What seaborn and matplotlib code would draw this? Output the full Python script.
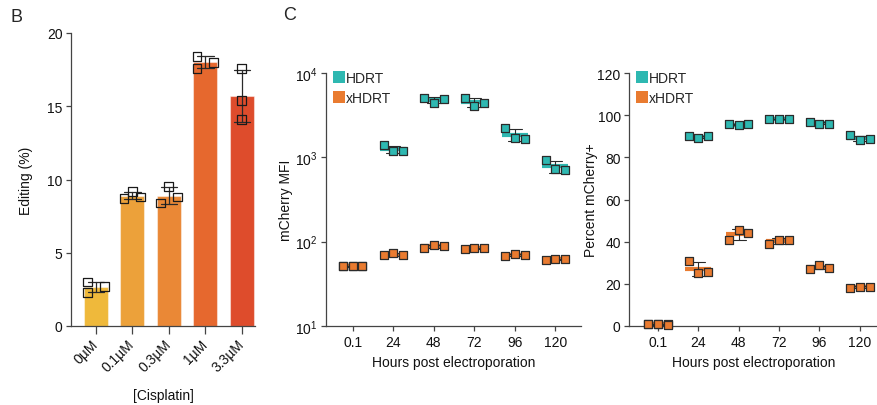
import numpy as np
import pandas as pd
import matplotlib
matplotlib.use("Agg")
import matplotlib.pyplot as plt
import seaborn as sns
from matplotlib.lines import Line2D
from matplotlib.ticker import NullLocator, FixedLocator

# ---- panel B data ----
doses = ["0µM", "0.1µM", "0.3µM", "1µM", "3.3µM"]
editing = [[3.0, 2.3, 2.7], [8.7, 9.2, 8.8], [8.4, 9.5, 8.8],
           [18.4, 17.6, 18.0], [17.6, 15.4, 14.1]]

# ---- panel C data ----
hours = ["0.1", "24", "48", "72", "96", "120"]
groups = ["HDRT", "xHDRT"]
mfi_hdrt = [[52, 51, 52], [1384, 1186, 1186], [5092, 4396, 4865],
            [5092, 4055, 4357], [2203, 1706, 1645], [927, 718, 705]]
mfi_xhdrt = [[51, 52, 51], [69, 73, 69], [84, 92, 88],
             [82, 84, 84], [68, 72, 69], [61, 62, 62]]
pct_hdrt = [[0.8, 1.0, 0.9], [89.9, 89.1, 89.9], [95.6, 95.3, 95.8],
            [98.3, 98.1, 98.1], [96.7, 95.8, 95.9], [90.5, 88.2, 88.5]]
pct_xhdrt = [[0.8, 0.9, 0.7], [30.9, 25.0, 25.5], [40.8, 45.7, 44.0],
             [38.9, 41.0, 41.0], [27.2, 28.8, 27.5], [18.0, 18.7, 18.7]]

# layout: horizontal spread of replicate points (category units)
spread_b = [[-1, -1, 1], [-1, 0, 1], [-1, 0, 1], [-1, -1, 1], [0, 0, 0]]
spread_c = [-1, 0, 1]

bar_colors = ["#EFB93B", "#ECA13A", "#EA8836", "#E6682E", "#DE4C2C"]
group_colors = {"HDRT": "#2EB8B1", "xHDRT": "#E97B30"}

FS = 10

sns.set_style("ticks")
plt.rcParams["font.family"] = ["Liberation Sans", "DejaVu Sans"]
plt.rcParams["mathtext.fontset"] = "custom"
plt.rcParams["mathtext.rm"] = "Liberation Sans"
plt.rcParams.update({
    "axes.edgecolor": "#444444", "axes.linewidth": 0.9,
    "xtick.color": "#444444", "ytick.color": "#444444",
    "xtick.labelcolor": "#111111", "ytick.labelcolor": "#111111",
    "xtick.major.width": 0.9, "ytick.major.width": 0.9,
    "xtick.major.size": 3.5, "ytick.major.size": 3.5,
    "xtick.major.pad": 3, "ytick.major.pad": 2.5,
    "font.size": FS, "axes.labelsize": FS,
    "xtick.labelsize": FS, "ytick.labelsize": FS,
    "axes.labelcolor": "#111111",
})

dfb = pd.DataFrame({
    "dose": np.repeat(doses, 3),
    "editing": np.concatenate(editing),
    "pos": np.repeat(np.arange(len(doses)), 3) + 0.23 * np.concatenate(spread_b),
})


def long_frame(hdrt, xhdrt):
    rows = []
    for g, vals in zip(groups, [hdrt, xhdrt]):
        for i, h in enumerate(hours):
            for k, v in enumerate(vals[i]):
                rows.append({"hour": h, "group": g, "value": v,
                             "pos": i + 0.24 * spread_c[k]})
    return pd.DataFrame(rows)


dfm = long_frame(mfi_hdrt, mfi_xhdrt)
dfp = long_frame(pct_hdrt, pct_xhdrt)

fig = plt.figure(figsize=(8.78, 4.06), dpi=100)
axB = fig.add_axes([71 / 878, 79 / 406, 184 / 878, 293 / 406])
axL = fig.add_axes([326 / 878, 79 / 406, 255 / 878, 253 / 406])
axR = fig.add_axes([629 / 878, 79 / 406, 249 / 878, 253 / 406])

# ---- panel B ----
sns.barplot(data=dfb, x="dose", y="editing", hue="dose", palette=bar_colors,
            saturation=1, errorbar="sd", capsize=0.45, width=0.66,
            legend=False, edgecolor=(1, 1, 1, 0.45), linewidth=0.8,
            err_kws={"color": "#2a2a2a", "linewidth": 0.9}, ax=axB)
sns.scatterplot(x=dfb["pos"], y=dfb["editing"], marker="s", s=40,
                facecolor="none", edgecolor="#1a1a1a", linewidth=0.9,
                legend=False, ax=axB, zorder=4)
axB.set_xlim(-0.68, 4.36)
axB.set_ylim(0, 20)
axB.set_yticks([0, 5, 10, 15, 20])
axB.set_xticks(range(len(doses)))
axB.set_xticklabels(doses, rotation=45, ha="right", va="center",
                    rotation_mode="anchor")
axB.tick_params(axis="x", length=5.5, pad=6)
axB.set_xlabel("[Cisplatin]", labelpad=10)
axB.set_ylabel("Editing (%)")
axB.yaxis.set_label_coords(-0.207, 0.5)
sns.despine(ax=axB)

# ---- panel C ----
legend_handles = [Line2D([], [], marker="s", linestyle="none", markersize=8.6,
                         markerfacecolor=group_colors[g], markeredgewidth=0,
                         label=g) for g in groups]

for ax, df in [(axL, dfm), (axR, dfp)]:
    sns.pointplot(data=df, x="hour", y="value", hue="group", order=hours,
                  hue_order=groups, palette=group_colors, dodge=False,
                  errorbar="sd", capsize=0.34, marker="_", markersize=19,
                  markeredgewidth=3, linestyle="none", legend=False,
                  err_kws={"color": "#2a2a2a", "linewidth": 0.8}, ax=ax)
    for g in groups:
        sub = df[df["group"] == g]
        sns.scatterplot(x=sub["pos"], y=sub["value"], marker="s", s=30,
                        color=group_colors[g], edgecolor="#2b2b2b",
                        linewidth=0.9, legend=False, ax=ax, zorder=5,
                        clip_on=False)
    ax.set_xticks(range(len(hours)))
    ax.set_xticklabels(hours)
    ax.set_xlabel("Hours post electroporation", labelpad=4)
    ax.legend(handles=legend_handles, loc="upper left", frameon=False,
              bbox_to_anchor=(-0.01, 1.045), handlelength=0.8,
              handletextpad=0.1, labelspacing=0.42, borderaxespad=0.3,
              fontsize=FS)
    sns.despine(ax=ax)

axL.set_yscale("log")
axL.set_ylim(10, 1e4)
axL.yaxis.set_major_locator(FixedLocator([10, 100, 1000, 10000]))
axL.yaxis.set_minor_locator(NullLocator())
axL.set_xlim(-0.66, 5.63)
axL.set_ylabel("mCherry MFI")
axL.yaxis.set_label_coords(-0.129, 0.5)

axR.set_ylim(0, 120)
axR.set_yticks(range(0, 121, 20))
axR.set_xlim(-0.72, 5.45)
axR.set_ylabel("Percent mCherry+")
axR.yaxis.set_label_coords(-0.124, 0.5)

fig.text(10 / 878, 1 - 17 / 406, "B", fontsize=13, va="center", ha="left")
fig.text(283 / 878, 1 - 16 / 406, "C", fontsize=13, va="center", ha="left")

fig.savefig("out.png", dpi=100)
